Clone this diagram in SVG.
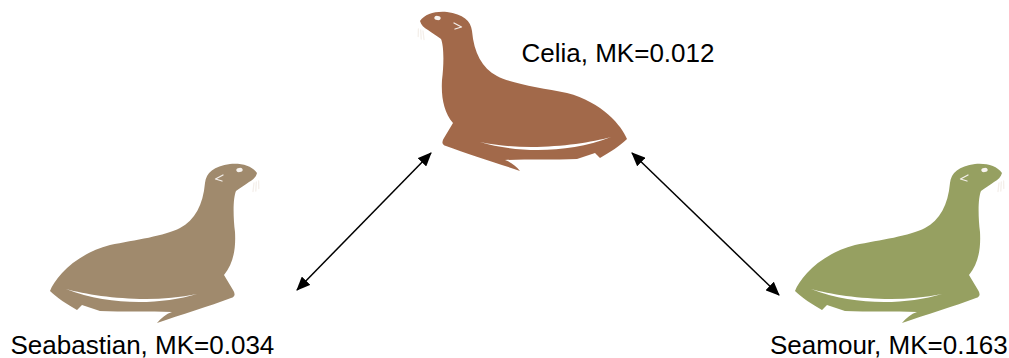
<svg xmlns="http://www.w3.org/2000/svg" width="1009" height="358" viewBox="0 0 1009 358">
  <style>
    .label { font-family: "Liberation Sans", Arial, sans-serif; font-size: 26px; fill: #000; }
    .link { fill: none; stroke: #000; stroke-width: 1.5; marker-start: url(#arrow); marker-end: url(#arrow); }
    .mark { fill: none; stroke: #F4EFEA; stroke-width: 1.3; stroke-linecap: round; stroke-linejoin: round; }
    .eye { fill: #F7F3EF; }
  </style>
  <defs>
    <marker id="arrow" viewBox="0 0 14 12" refX="13" refY="6" markerWidth="14" markerHeight="12" markerUnits="userSpaceOnUse" orient="auto-start-reverse">
      <path d="M0,0 L14,6 L0,12 Z" fill="#000"/>
    </marker>
    <!-- sea lion silhouette, facing right; fill comes from the <use> -->
    <g id="seal">
      <path fill-rule="evenodd" d="M257,173 C256,177 253,180 249,182 C245,185 240,188 236,191 C233,198 233,216 235,232 C236,250 233,264 224,275 L233,290 Q237,296 231,298 C210,306 180,315 157,323 C161,318 166,314 172,312 C150,311 122,312 100,311 L82,305 L77,310 C67,304 57,298 50,291 C55,278 75,254 110,245 C135,240 165,236 180,228 C195,220 203,205 205,183 C206,173 214,166 230,164 C242,163 252,166 257,173 Z M66,289 C95,297 150,304 197,294 C160,305 110,306 66,289 Z"/>
      <ellipse class="eye" cx="239.5" cy="170" rx="3.2" ry="2.1" transform="rotate(-8 239.5 170)"/>
      <polyline class="mark" points="223,175 215.5,179 222,181"/>
      <path class="mark" d="M254,183 L253,191.5 M256.3,182 L255.8,191 M258.6,181 L258.8,188.5"/>
    </g>
  </defs>

  <g id="celia">
    <use href="#seal" fill="#A2694A" transform="translate(677,-152) scale(-1,1)"/>
    <text class="label" x="521.5" y="61.5">Celia, MK=0.012</text>
  </g>

  <g id="seabastian">
    <use href="#seal" fill="#A08A6D"/>
    <text class="label" x="10.5" y="354">Seabastian, MK=0.034</text>
  </g>

  <g id="seamour">
    <use href="#seal" fill="#96A061" transform="translate(745,0)"/>
    <text class="label" x="770" y="354">Seamour, MK=0.163</text>
  </g>

  <g id="connectors">
    <line class="link" x1="297" y1="290" x2="431" y2="153"/>
    <line class="link" x1="632" y1="153" x2="779" y2="295"/>
  </g>
</svg>
